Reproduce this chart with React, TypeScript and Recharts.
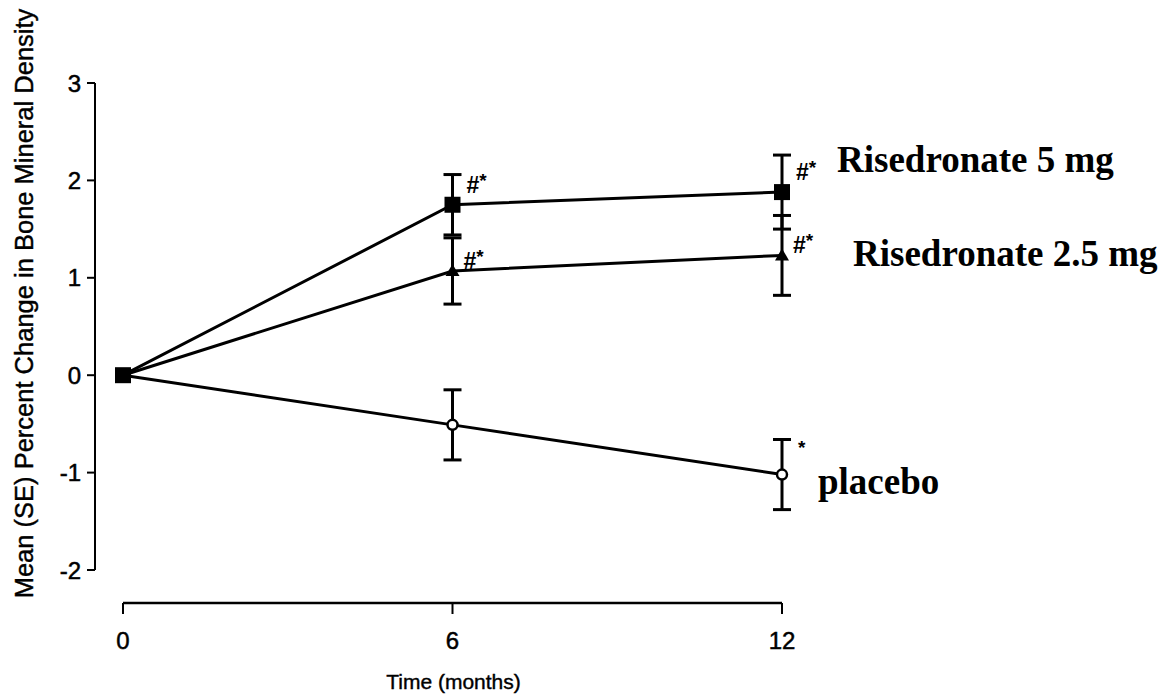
import React from 'react';
import { LineChart, Line, XAxis, YAxis, ErrorBar, ReferenceLine, LabelList } from 'recharts';

// ---- data ----
const months = [0, 6, 12];
const xTicks = [0, 6, 12];
const yTicks = [-2, -1, 0, 1, 2, 3];

const ris5Mean = [0, 1.75, 1.88];
const ris5SE = [null, 0.31, 0.38];
const ris5Sig = ['', '#*', '#*'];

const ris25Mean = [0, 1.07, 1.23];
const ris25SE = [null, 0.34, 0.41];
const ris25Sig = ['', '#*', '#*'];

const placeboMean = [0, -0.51, -1.02];
const placeboSE = [null, 0.36, 0.36];
const placeboSig = ['', '', '*'];

const ris5Name = 'Risedronate 5 mg';
const ris25Name = 'Risedronate 2.5 mg';
const placeboName = 'placebo';
const xTitle = 'Time (months)';
const yTitle = 'Mean (SE) Percent Change in Bone Mineral Density';

const xAxisLineValue = -2.34; // x axis sits below the y axis' lowest tick

const data = months.map((m, i) => ({
  month: m,
  ris5: ris5Mean[i],
  ris5Err: ris5SE[i],
  ris5Sig: ris5Sig[i],
  ris25: ris25Mean[i],
  ris25Err: ris25SE[i],
  ris25Sig: ris25Sig[i],
  placebo: placeboMean[i],
  placeboErr: placeboSE[i],
  placeboSig: placeboSig[i],
}));

const SANS = '"Liberation Sans", Arial, Helvetica, sans-serif';
const SERIF = '"Liberation Serif", "Times New Roman", Times, serif';

// ---- markers ----
const SquareDot = (p: any) => {
  if (p.cx == null || p.cy == null) return <g key={`sq${p.index}`} />;
  return <rect key={`sq${p.index}`} x={p.cx - 8} y={p.cy - 8} width={16} height={16} fill="#000" />;
};
const TriangleDot = (p: any) => {
  if (p.cx == null || p.cy == null) return <g key={`tr${p.index}`} />;
  const { cx, cy } = p;
  return <path key={`tr${p.index}`} d={`M${cx},${cy - 7} L${cx + 7},${cy + 5} L${cx - 7},${cy + 5} Z`} fill="#000" />;
};
const CircleDot = (p: any) => {
  if (p.cx == null || p.cy == null) return <g key={`ci${p.index}`} />;
  return <circle key={`ci${p.index}`} cx={p.cx} cy={p.cy} r={5} fill="#fff" stroke="#000" strokeWidth={2.5} />;
};

// ---- annotations ----
const makeSig = (dx: number, dy: number) => (props: any) => {
  const { x, y, value, index } = props;
  if (!value) return <g key={`sig${index}`} />;
  const hasHash = String(value).includes('#');
  return (
    <text key={`sig${index}`} x={x + dx} y={y + dy} fontFamily={SANS} fontSize={23} fontWeight="bold" fill="#000">
      {hasHash ? '#' : ''}
      <tspan fontSize={19} dy={-6}>*</tspan>
    </text>
  );
};

const makeName = (name: string, dx: number, dy: number) => (props: any) => {
  const { x, y, index } = props;
  if (index !== months.length - 1) return <g key={`nm${index}`} />;
  return (
    <text key={`nm${index}`} x={x + dx} y={y + dy} fontFamily={SERIF} fontSize={37} fontWeight="bold" fill="#000">
      {name}
    </text>
  );
};

// ---- axis ticks ----
const XTick = (props: any) => {
  const { x, y, payload } = props;
  return (
    <g>
      <line x1={x} x2={x} y1={y + 33} y2={y + 44} stroke="#000" strokeWidth={2} />
      <text x={x} y={y + 79} textAnchor="middle" fontFamily={SANS} fontSize={24} fill="#000" stroke="#000" strokeWidth={0.5}>
        {payload.value}
      </text>
    </g>
  );
};

const XTitle = (props: any) => {
  const vb = props.viewBox || {};
  const cx = vb.x + 30 + (vb.width - 30) / 2;
  return (
    <text x={cx} y={vb.y + 119} textAnchor="middle" fontFamily={SANS} fontSize={21} fill="#000" stroke="#000" strokeWidth={0.4}>
      {xTitle}
    </text>
  );
};

const YTitle = (props: any) => {
  const vb = props.viewBox || {};
  const cx = vb.x + 33;
  const cy = vb.y + vb.height / 2 - 23;
  return (
    <text
      x={cx}
      y={cy}
      transform={`rotate(-90, ${cx}, ${cy})`}
      textAnchor="middle"
      fontFamily={SANS}
      fontSize={25.5}
      fill="#000"
      stroke="#000"
      strokeWidth={0.4}
    >
      {yTitle}
    </text>
  );
};

export default function App() {
  return (
    <div style={{ position: 'absolute', left: 0, top: 0, width: 1172, height: 700, background: '#fff' }}>
      <LineChart width={1172} height={700} data={data} margin={{ top: 83, right: 390, bottom: 0, left: 0 }}>
        <XAxis
          dataKey="month"
          type="number"
          domain={[0, 12]}
          ticks={xTicks}
          padding={{ left: 28, right: 0 }}
          axisLine={false}
          tickLine={false}
          tickSize={0}
          tickMargin={0}
          height={130}
          tick={<XTick />}
          label={<XTitle />}
          interval={0}
        />
        <YAxis
          type="number"
          domain={[-2, 3]}
          ticks={yTicks}
          width={95}
          axisLine={{ stroke: '#000', strokeWidth: 2 }}
          tickLine={{ stroke: '#000', strokeWidth: 2 }}
          tickSize={8}
          tickMargin={6}
          tick={{ fontFamily: SANS, fontSize: 24, fill: '#000', stroke: '#000', strokeWidth: 0.5 }}
          label={<YTitle />}
          interval={0}
        />
        <ReferenceLine
          segment={[
            { x: 0, y: xAxisLineValue },
            { x: 12, y: xAxisLineValue },
          ]}
          ifOverflow="visible"
          stroke="#000"
          strokeWidth={2.5}
        />
        <Line
          dataKey="placebo"
          stroke="#000"
          strokeWidth={3}
          dot={CircleDot}
          activeDot={false}
          isAnimationActive={false}
        >
          <ErrorBar dataKey="placeboErr" width={9} stroke="#000" strokeWidth={3} direction="y" />
          <LabelList dataKey="placeboSig" content={makeSig(16, -15)} />
          <LabelList dataKey="placebo" content={makeName(placeboName, 36, 19)} />
        </Line>
        <Line
          dataKey="ris25"
          stroke="#000"
          strokeWidth={3}
          dot={TriangleDot}
          activeDot={false}
          isAnimationActive={false}
        >
          <ErrorBar dataKey="ris25Err" width={9} stroke="#000" strokeWidth={3} direction="y" />
          <LabelList dataKey="ris25Sig" content={makeSig(11, -2)} />
          <LabelList dataKey="ris25" content={makeName(ris25Name, 71, 11)} />
        </Line>
        <Line
          dataKey="ris5"
          stroke="#000"
          strokeWidth={3}
          dot={SquareDot}
          activeDot={false}
          isAnimationActive={false}
        >
          <ErrorBar dataKey="ris5Err" width={9} stroke="#000" strokeWidth={3} direction="y" />
          <LabelList dataKey="ris5Sig" content={makeSig(14, -12)} />
          <LabelList dataKey="ris5" content={makeName(ris5Name, 55, -20)} />
        </Line>
      </LineChart>
    </div>
  );
}
